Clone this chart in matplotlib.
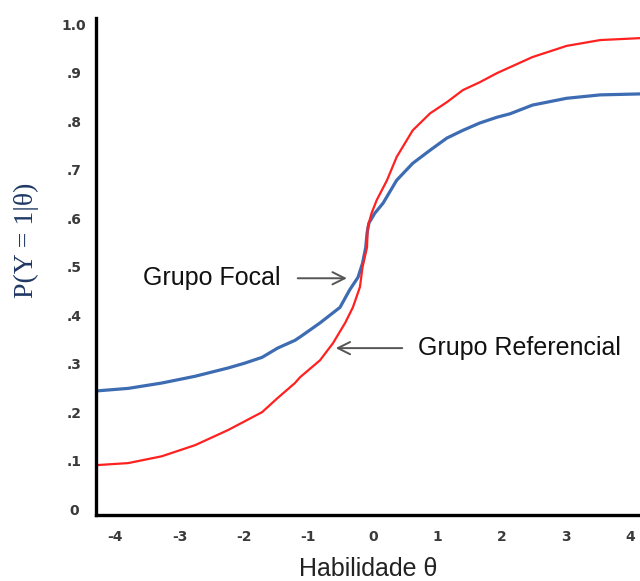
import matplotlib
matplotlib.use('Agg')
from matplotlib import pyplot as plt

# values
theta_focal = [-4.27, -3.80, -3.28, -2.76, -2.25, -1.99, -1.72, -1.48, -1.21, -1.13,
               -0.82, -0.51, -0.36, -0.23, -0.16, -0.11, -0.09, -0.06, 0.03, 0.16,
               0.37, 0.62, 0.89, 1.15, 1.40, 1.66, 1.93, 2.13, 2.48, 3.01, 3.53, 4.15]
p_focal = [0.244, 0.249, 0.260, 0.274, 0.291, 0.301, 0.313, 0.332, 0.348, 0.355,
           0.384, 0.416, 0.452, 0.478, 0.507, 0.540, 0.569, 0.590, 0.610, 0.631,
           0.678, 0.713, 0.740, 0.765, 0.781, 0.796, 0.808, 0.815, 0.833, 0.847, 0.854, 0.856]

theta_ref = [-4.27, -3.80, -3.28, -2.76, -2.25, -1.72, -1.48, -1.21, -1.13, -0.82,
             -0.62, -0.43, -0.31, -0.20, -0.16, -0.09, -0.08, -0.02, 0.06, 0.22,
             0.37, 0.62, 0.89, 1.15, 1.40, 1.66, 1.93, 2.13, 2.48, 3.01, 3.53, 4.15]
p_ref = [0.091, 0.095, 0.109, 0.132, 0.163, 0.200, 0.229, 0.260, 0.272, 0.307,
         0.342, 0.384, 0.416, 0.458, 0.499, 0.540, 0.581, 0.610, 0.637, 0.678,
         0.726, 0.781, 0.816, 0.839, 0.864, 0.880, 0.899, 0.911, 0.932, 0.955, 0.967, 0.971]

xticks = [-4, -3, -2, -1, 0, 1, 2, 3, 4]
yticks = [0, 0.1, 0.2, 0.3, 0.4, 0.5, 0.6, 0.7, 0.8, 0.9, 1.0]
ytick_labels = ['0', '.1', '.2', '.3', '.4', '.5', '.6', '.7', '.8', '.9', '1.0']

fig = plt.figure(figsize=(6.4, 5.81), dpi=100)
ax = fig.add_axes([0.15, 0.1136, 0.85, 0.855])

ax.plot(theta_focal, p_focal, color='#3d6cb3', lw=2.3,
        solid_capstyle='round', solid_joinstyle='round')
ax.plot(theta_ref, p_ref, color='#ff2020', lw=1.6,
        solid_capstyle='round', solid_joinstyle='round')

ax.set_xlim(-4.3, 4.15)
ax.set_ylim(-0.012, 1.012)

for s in ['top', 'right']:
    ax.spines[s].set_visible(False)
for s in ['left', 'bottom']:
    ax.spines[s].set_linewidth(2.4)
    ax.spines[s].set_color('black')

ax.set_xticks(xticks)
ax.set_xticklabels([str(t) for t in xticks])
ax.set_yticks(yticks)
ax.set_yticklabels(ytick_labels)
ax.tick_params(axis='both', length=0, labelsize=10, labelcolor='#3a3a3a')
ax.tick_params(axis='x', pad=11)
ax.tick_params(axis='y', pad=16)
for lab in ax.get_xticklabels() + ax.get_yticklabels():
    lab.set_fontweight('bold')
for lab in ax.get_yticklabels():
    lab.set_horizontalalignment('center')

ax.set_xlabel('Habilidade θ', fontsize=18, family='Liberation Sans', color='#222222', labelpad=9)
ax.set_ylabel('P(Y = 1|θ)', fontsize=20, family='Liberation Serif', color='#1f3864')
ax.yaxis.set_label_coords(-0.105, 0.553)

arrow = dict(arrowstyle='->', color='#555555', lw=1.4, mutation_scale=22)
ax.annotate('', xy=(-0.36, 0.476), xytext=(-1.21, 0.476), arrowprops=arrow)
ax.text(-1.44, 0.476, 'Grupo Focal', ha='right', va='center', fontsize=18,
        family='Liberation Sans', color='#111111')
ax.annotate('', xy=(-0.62, 0.332), xytext=(0.50, 0.332), arrowprops=arrow)
ax.text(0.70, 0.332, 'Grupo Referencial', ha='left', va='center', fontsize=18,
        family='Liberation Sans', color='#111111')

fig.savefig('out.png', dpi=100)
